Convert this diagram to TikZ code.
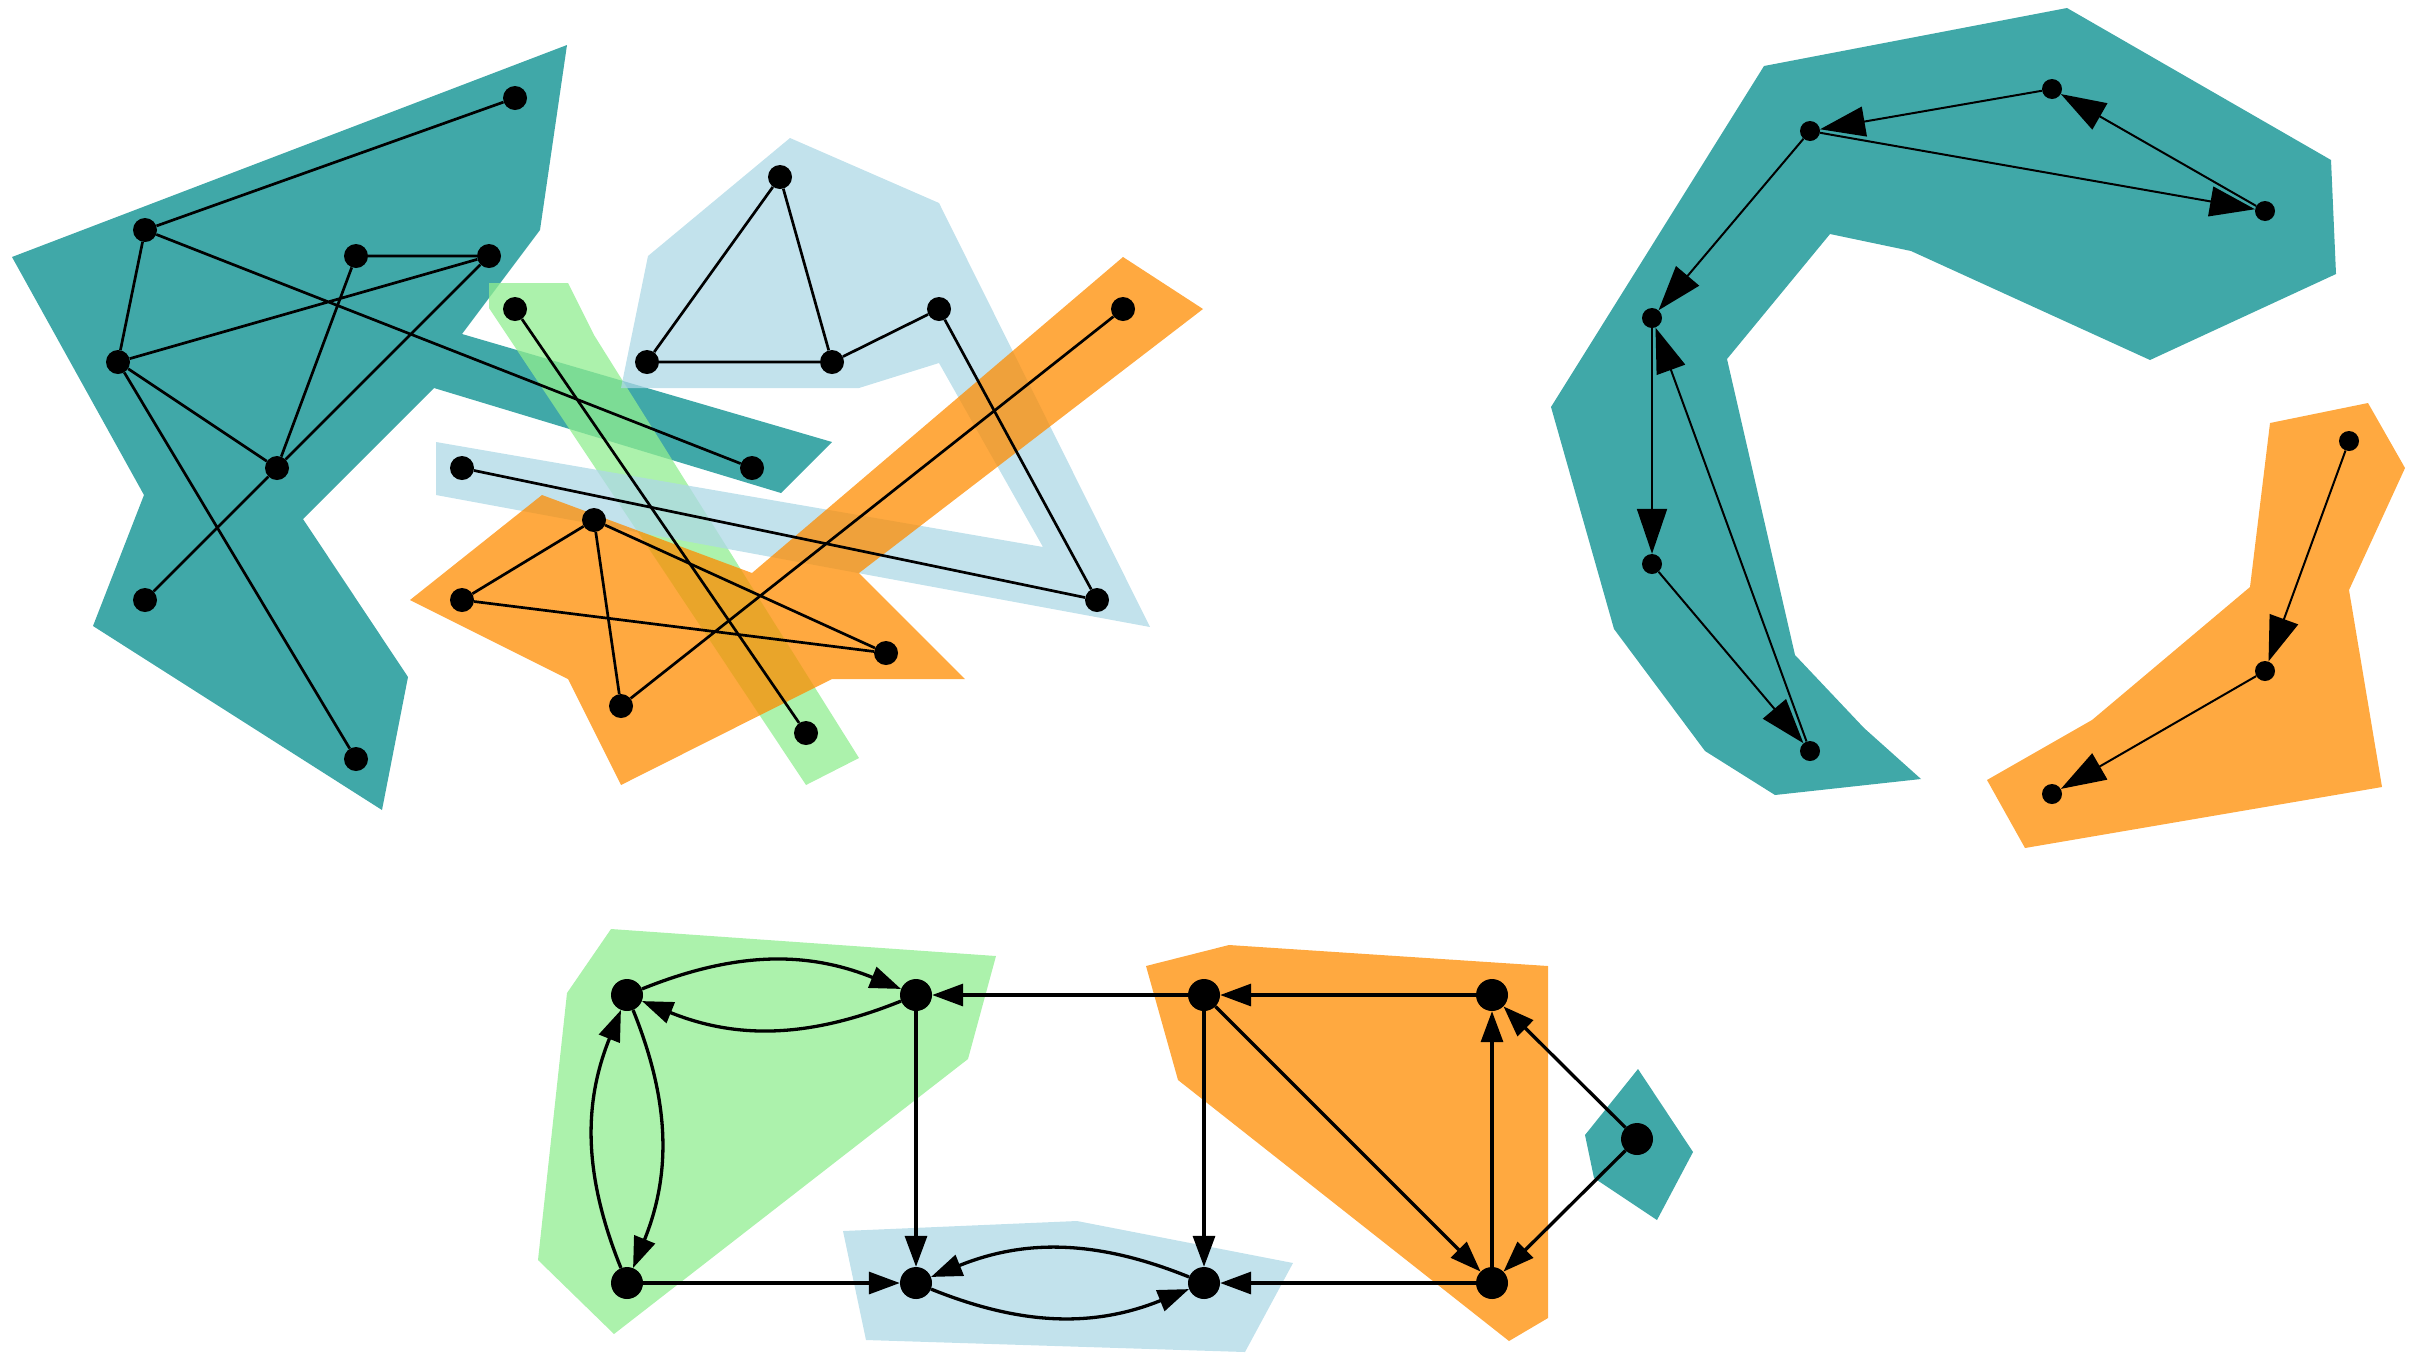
\documentclass[tikz,border=0pt]{standalone}
\usetikzlibrary{arrows.meta}
\definecolor{cteal}{RGB}{0,139,139}
\definecolor{cblue}{RGB}{173,216,230}
\definecolor{cgreen}{RGB}{144,238,144}
\definecolor{corange}{RGB}{255,140,0}
\begin{document}
\begin{tikzpicture}[x=1pt,y=1pt,
  hteal/.style={fill=cteal,fill opacity=0.75},
  hblue/.style={fill=cblue,fill opacity=0.75},
  hgreen/.style={fill=cgreen,fill opacity=0.75},
  horange/.style={fill=corange,fill opacity=0.75},
  dotA/.style={circle,fill=black,inner sep=0pt,minimum size=24pt},
  dotE/.style={circle,fill=black,inner sep=0pt,minimum size=20pt},
  dotG/.style={circle,fill=black,inner sep=0pt,minimum size=32pt},
  edgeA/.style={line width=2.7pt},
  edgeE/.style={line width=2pt,-{Triangle[length=45pt,width=30pt]}},
  edgeG/.style={line width=3.3pt,-{Triangle[length=31pt,width=22pt]}}]
\useasboundingbox (0,0) rectangle (2424,-1353);
% hulls
\fill[hteal] (567,-45) -- (540,-230) -- (462,-334) -- (832,-442) -- (781,-493) -- (434,-388) -- (303,-519) -- (408,-677) -- (382,-810) -- (93,-626) -- (144,-495) -- (12,-257) -- cycle;
\fill[hgreen] (489,-283) -- (568,-283) -- (594,-335) -- (859,-758) -- (806,-785) -- (489,-308) -- cycle;
\fill[hblue] (790,-138) -- (939,-203) -- (1150,-627) -- (436,-495) -- (436,-442) -- (1043,-547) -- (939,-363) -- (859,-388) -- (621,-388) -- (648,-256) -- cycle;
\fill[horange] (1123,-257) -- (1203,-309) -- (859,-573) -- (965,-679) -- (832,-679) -- (621,-785) -- (568,-679) -- (410,-600) -- (542,-495) -- (752,-573) -- cycle;
\fill[hteal] (1764,-66) -- (2067,-8) -- (2331,-160) -- (2336,-274) -- (2150,-360) -- (1911,-251) -- (1830,-234) -- (1727,-359) -- (1795,-655) -- (1864,-728) -- (1921,-779) -- (1775,-795) -- (1705,-751) -- (1614,-629) -- (1551,-407) -- cycle;
\fill[horange] (2270,-423) -- (2368,-403) -- (2405,-468) -- (2349,-590) -- (2382,-787) -- (2025,-848) -- (1987,-780) -- (2092,-720) -- (2250,-587) -- cycle;
\fill[hgreen] (611,-929) -- (996,-956) -- (968,-1059) -- (614,-1334) -- (538,-1260) -- (567,-993) -- cycle;
\fill[hblue] (843,-1231) -- (1077,-1221) -- (1293,-1263) -- (1245,-1352) -- (866,-1340) -- cycle;
\fill[horange] (1146,-966) -- (1229,-945) -- (1548,-966) -- (1548,-1318) -- (1509,-1341) -- (1178,-1080) -- cycle;
\fill[hteal] (1638,-1069) -- (1693,-1152) -- (1657,-1220) -- (1594,-1178) -- (1585,-1135) -- cycle;
% nodes top-left
\node[dotA] (A1) at (515,-98) {};
\node[dotA] (A2) at (145,-230) {};
\node[dotA] (A3) at (356,-256) {};
\node[dotA] (A4) at (489,-256) {};
\node[dotA] (A5) at (118,-362) {};
\node[dotA] (A6) at (277,-468) {};
\node[dotA] (A7) at (752,-468) {};
\node[dotA] (A8) at (145,-600) {};
\node[dotA] (A9) at (356,-759) {};
\node[dotA] (B1) at (780,-177) {};
\node[dotA] (B2) at (647,-362) {};
\node[dotA] (B3) at (832,-362) {};
\node[dotA] (B4) at (939,-309) {};
\node[dotA] (B5) at (462,-468) {};
\node[dotA] (B6) at (1097,-600) {};
\node[dotA] (C1) at (515,-309) {};
\node[dotA] (C2) at (806,-733) {};
\node[dotA] (D1) at (594,-520) {};
\node[dotA] (D2) at (462,-600) {};
\node[dotA] (D3) at (886,-653) {};
\node[dotA] (D4) at (621,-706) {};
\node[dotA] (D5) at (1123,-309) {};
\draw[edgeA] (A1)--(A2) (A2)--(A5) (A2)--(A7) (A3)--(A4) (A3)--(A6) (A4)--(A5) (A4)--(A6) (A5)--(A6) (A5)--(A9) (A6)--(A8);
\draw[edgeA] (B1)--(B2) (B1)--(B3) (B2)--(B3) (B3)--(B4) (B4)--(B6) (B5)--(B6);
\draw[edgeA] (C1)--(C2);
\draw[edgeA] (D1)--(D2) (D1)--(D4) (D1)--(D3) (D2)--(D3) (D4)--(D5);
% top-right
\node[dotE] (E1) at (2052,-89) {};
\node[dotE] (E2) at (1810,-131) {};
\node[dotE] (E3) at (2265,-211) {};
\node[dotE] (E4) at (1652,-318) {};
\node[dotE] (E5) at (1652,-564) {};
\node[dotE] (E6) at (1810,-751) {};
\node[dotE] (F1) at (2349,-441) {};
\node[dotE] (F2) at (2265,-671) {};
\node[dotE] (F3) at (2052,-794) {};
\draw[edgeE] (E1) -- (E2);
\draw[edgeE] (E3) -- (E1);
\draw[edgeE] (E2) -- (E3);
\draw[edgeE] (E2) -- (E4);
\draw[edgeE] (E4) -- (E5);
\draw[edgeE] (E6) -- (E4);
\draw[edgeE] (E5) -- (E6);
\draw[edgeE] (F1) -- (F2);
\draw[edgeE] (F2) -- (F3);
% bottom
\node[dotG] (G1) at (627,-995) {};
\node[dotG] (G2) at (916,-995) {};
\node[dotG] (G3) at (627,-1283) {};
\node[dotG] (G4) at (916,-1283) {};
\node[dotG] (G5) at (1204,-995) {};
\node[dotG] (G6) at (1492,-995) {};
\node[dotG] (G7) at (1204,-1283) {};
\node[dotG] (G8) at (1492,-1283) {};
\node[dotG] (G9) at (1637,-1139) {};
\draw[edgeG] (G1) to[bend left=22] (G2);
\draw[edgeG] (G2) to[bend left=22] (G1);
\draw[edgeG] (G1) to[bend left=22] (G3);
\draw[edgeG] (G3) to[bend left=22] (G1);
\draw[edgeG] (G7) to[bend right=22] (G4);
\draw[edgeG] (G4) to[bend right=22] (G7);
\draw[edgeG] (G3) -- (G4);
\draw[edgeG] (G2) -- (G4);
\draw[edgeG] (G5) -- (G2);
\draw[edgeG] (G6) -- (G5);
\draw[edgeG] (G5) -- (G7);
\draw[edgeG] (G5) -- (G8);
\draw[edgeG] (G8) -- (G6);
\draw[edgeG] (G9) -- (G6);
\draw[edgeG] (G9) -- (G8);
\draw[edgeG] (G8) -- (G7);
\end{tikzpicture}
\end{document}
